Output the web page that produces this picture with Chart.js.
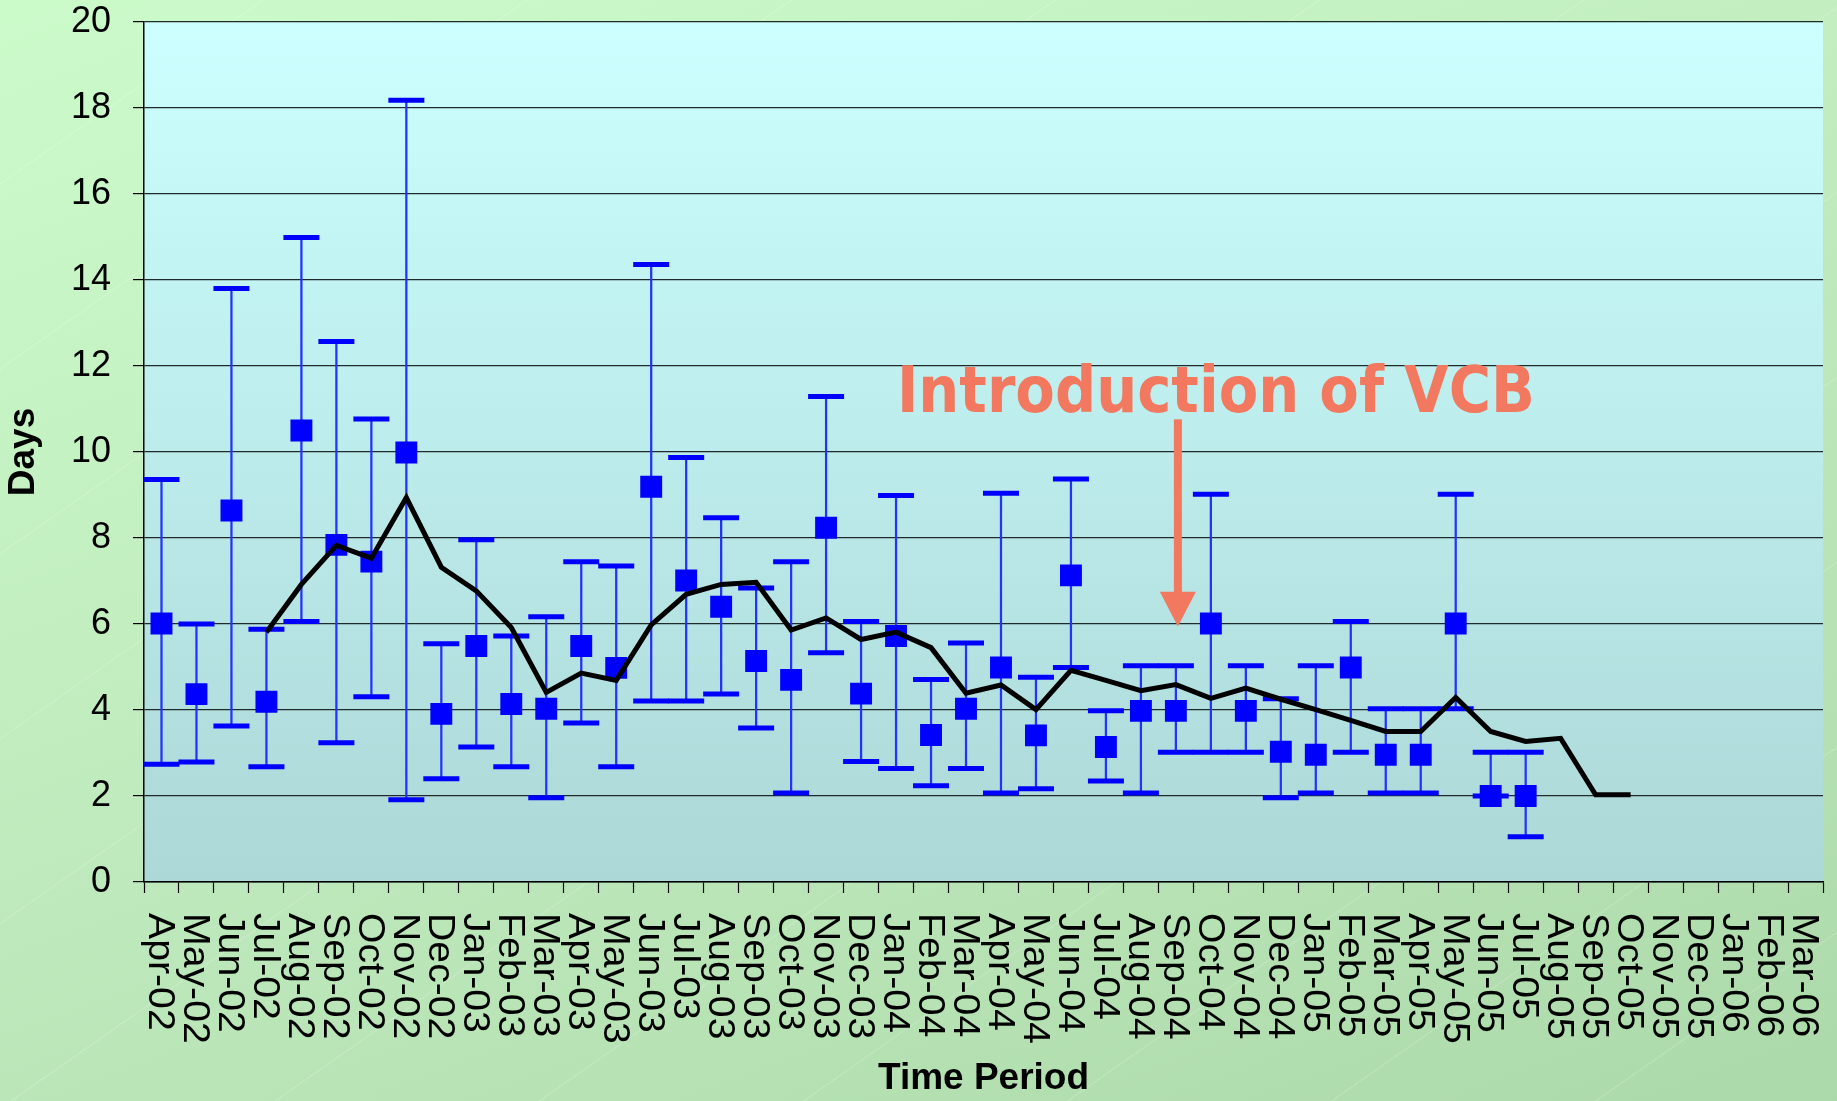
<!DOCTYPE html>
<html><head><meta charset="utf-8">
<script src="https://cdn.jsdelivr.net/npm/chart.js@4/dist/chart.umd.min.js"></script>
<style>
html,body{margin:0;padding:0;}
body{width:1837px;height:1101px;overflow:hidden;
background:
 repeating-linear-gradient(145deg, rgba(255,255,255,0) 0px, rgba(255,255,255,0) 150px, rgba(255,255,255,0.14) 150px, rgba(255,255,255,0.14) 151.5px),
 linear-gradient(160deg, #ccfbca 0%, #bfeabd 50%, #acd9aa 100%);}
canvas{display:block;}
</style></head><body>
<canvas id="c" width="1837" height="1101"></canvas>
<script>
const categories = ['Apr-02','May-02','Jun-02','Jul-02','Aug-02','Sep-02','Oct-02','Nov-02','Dec-02',
 'Jan-03','Feb-03','Mar-03','Apr-03','May-03','Jun-03','Jul-03','Aug-03','Sep-03','Oct-03','Nov-03','Dec-03',
 'Jan-04','Feb-04','Mar-04','Apr-04','May-04','Jun-04','Jul-04','Aug-04','Sep-04','Oct-04','Nov-04','Dec-04',
 'Jan-05','Feb-05','Mar-05','Apr-05','May-05','Jun-05','Jul-05','Aug-05','Sep-05','Oct-05','Nov-05','Dec-05',
 'Jan-06','Feb-06','Mar-06'];

const meanDays = [6.01,4.37,8.64,4.19,10.5,7.84,7.45,9.99,3.91,5.49,4.14,4.03,5.49,4.98,9.19,7.01,6.40,5.14,4.70,8.24,
 4.38,5.72,3.42,4.03,4.99,3.41,7.13,3.14,3.98,3.98,6.01,3.98,3.03,2.96,4.99,2.96,2.96,6.01,2.0,2.0];

const upperDays = [9.36,6.0,13.8,5.88,14.99,12.57,10.77,18.18,5.54,7.96,5.72,6.17,7.45,7.35,14.36,9.87,8.47,6.84,7.45,11.29,
 6.06,8.99,4.71,5.56,9.04,4.76,9.37,3.98,5.03,5.03,9.02,5.03,4.26,5.03,6.06,4.03,4.03,9.02,3.02,3.02];

const lowerDays = [2.74,2.79,3.63,2.68,6.06,3.24,4.31,1.91,2.40,3.14,2.68,1.96,3.70,2.68,4.21,4.21,4.37,3.58,2.07,5.33,
 2.80,2.64,2.24,2.64,2.07,2.17,4.99,2.35,2.07,3.02,3.02,3.02,1.96,2.07,3.02,2.07,2.07,4.03,2.0,1.05];

const trendDays = [null,null,null,5.81,6.92,7.83,7.53,8.94,7.32,6.77,5.92,4.41,4.86,4.69,5.98,6.69,6.92,6.97,5.86,6.14,
 5.64,5.81,5.45,4.39,4.58,4.01,4.92,4.69,4.45,4.59,4.27,4.51,4.25,4.01,3.76,3.50,3.50,4.29,3.50,3.27,3.34,2.03,2.03,
 null,null,null,null,null];

const annotationText = 'Introduction of VCB';
const annotationCategory = 'Sep-04';

const whiskers = lowerDays.map((l, i) => [l, upperDays[i]]);

const plotBg = {
  id: 'plotBg',
  beforeDraw(chart) {
    const {ctx, chartArea: a} = chart;
    const g = ctx.createLinearGradient(0, a.top, 0, a.bottom);
    g.addColorStop(0, '#ccffff');
    g.addColorStop(1, '#acd8d7');
    ctx.save();
    ctx.fillStyle = g;
    ctx.fillRect(a.left, a.top, a.right - a.left, a.bottom - a.top);
    ctx.restore();
  }
};

const xLabels = {
  id: 'xLabels',
  afterDraw(chart) {
    const {ctx} = chart;
    const xs = chart.scales.x;
    ctx.save();
    ctx.font = '37px "Liberation Sans", Arial, sans-serif';
    ctx.fillStyle = '#000';
    ctx.textAlign = 'left';
    ctx.textBaseline = 'middle';
    categories.forEach((lab, i) => {
      const x = xs.getPixelForValue(i) - 2;
      ctx.save();
      ctx.translate(x, xs.top + 31);
      ctx.rotate(Math.PI / 2);
      ctx.scale(1.06, 1);
      ctx.fillText(lab, 0, 0);
      ctx.restore();
    });
    ctx.restore();
  }
};

const annotation = {
  id: 'annotation',
  afterDatasetsDraw(chart) {
    const {ctx} = chart;
    const xs = chart.scales.x, ys = chart.scales.y;
    const ax = xs.getPixelForValue(categories.indexOf(annotationCategory)) + 2;
    const color = '#f2785f';
    ctx.save();
    ctx.fillStyle = color;
    const stemTop = ys.getPixelForValue(10.76);
    const headTop = ys.getPixelForValue(6.75);
    const tip = ys.getPixelForValue(5.94);
    ctx.fillRect(ax - 4, stemTop, 8, headTop - stemTop + 1);
    ctx.beginPath();
    ctx.moveTo(ax - 18, headTop);
    ctx.lineTo(ax + 18, headTop);
    ctx.lineTo(ax, tip);
    ctx.closePath();
    ctx.fill();
    ctx.font = 'bold 64px "DejaVu Sans", Verdana, sans-serif';
    ctx.textAlign = 'left';
    ctx.textBaseline = 'alphabetic';
    const w = ctx.measureText(annotationText).width;
    const targetW = 638;
    ctx.translate(ax - 281, ys.getPixelForValue(10.92));
    ctx.scale(targetW / w, 1);
    ctx.fillText(annotationText, 0, 0);
    ctx.restore();
  }
};

new Chart(document.getElementById('c'), {
  type: 'bar',
  data: {
    labels: categories,
    datasets: [
      {
        type: 'line', label: 'Trend', data: trendDays, order: 0,
        borderColor: '#000', borderWidth: 5, pointRadius: 0, tension: 0,
        spanGaps: false, fill: false
      },
      {
        type: 'line', label: 'Mean', data: meanDays, order: 1, showLine: false,
        pointStyle: 'rect', pointRadius: 15.5, pointBackgroundColor: '#0000ff',
        pointBorderWidth: 0, borderWidth: 0, backgroundColor: '#0000ff'
      },
      {
        type: 'line', label: 'Upper', data: upperDays, order: 2, showLine: false,
        pointStyle: 'line', pointRadius: 18, pointBorderWidth: 5, pointBorderColor: '#0000ff',
        borderColor: '#0000ff'
      },
      {
        type: 'line', label: 'Lower', data: lowerDays, order: 2, showLine: false,
        pointStyle: 'line', pointRadius: 18, pointBorderWidth: 5, pointBorderColor: '#0000ff',
        borderColor: '#0000ff'
      },
      {
        type: 'bar', label: 'Range', data: whiskers, order: 3,
        barThickness: 1.6, backgroundColor: '#2233ff', borderWidth: 0
      }
    ]
  },
  options: {
    responsive: false,
    animation: false,
    events: [],
    layout: { autoPadding: false, padding: { top: 22, right: 14, left: 0, bottom: 0 } },
    plugins: { legend: { display: false }, tooltip: { enabled: false } },
    scales: {
      x: {
        type: 'category',
        offset: true,
        afterFit(scale) { scale.height = 219; scale.paddingLeft = 0; scale.paddingRight = 0; },
        grid: { offset: true, drawOnChartArea: false, drawTicks: true, tickLength: 11, tickColor: '#000', tickWidth: 1.2, color: '#000' },
        border: { display: true, color: '#000', width: 1.5 },
        ticks: { display: false },
        title: {
          display: true, text: 'Time Period', color: '#000',
          font: { family: '"Liberation Sans", Arial, sans-serif', size: 37, weight: 'bold', lineHeight: 1.2 },
          padding: 0
        }
      },
      y: {
        min: 0, max: 20,
        afterFit(scale) { scale.width = 144; scale.paddingTop = 0; scale.paddingBottom = 0; },
        grid: { color: '#1f2a2a', lineWidth: 1.2, drawTicks: true, tickLength: 11, tickColor: '#000', tickWidth: 1.2 },
        border: { display: true, color: '#000', width: 1.5 },
        ticks: {
          stepSize: 2, padding: 22, color: '#000',
          font: { family: '"Liberation Sans", Arial, sans-serif', size: 36 }
        },
        title: {
          display: true, text: 'Days', color: '#000',
          font: { family: '"Liberation Sans", Arial, sans-serif', size: 37, weight: 'bold', lineHeight: 1.3 },
          padding: 0
        }
      }
    }
  },
  plugins: [plotBg, xLabels, annotation]
});
</script>
</body></html>
